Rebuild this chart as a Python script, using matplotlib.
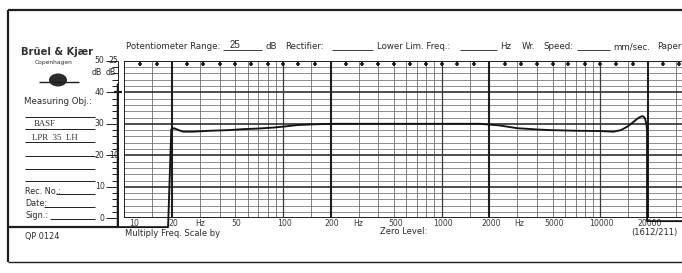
import matplotlib
matplotlib.use("Agg")
import matplotlib.pyplot as plt
import numpy as np
from matplotlib.lines import Line2D
from matplotlib.patches import Ellipse

# ---------------- data ----------------
# recorded pen trace (frequency in Hz, level in dB on the 50 dB scale)
trace_freq = [9.1, 9.1, 18.9, 19.8, 20.6, 22.0, 23.5, 27.0, 35.0, 46.0, 56.0,
              70.0, 87.0, 105.0, 123.0, 150.0, 200.0, 500.0, 1000.0, 1750.0,
              2300.0, 3000.0, 4000.0, 4800.0, 7000.0, 10000.0, 12100.0,
              13500.0, 14800.0, 16000.0, 17200.0, 18000.0, 18600.0, 19100.0,
              19500.0, 19700.0, 19700.0, 40000.0]
trace_level = [42.5, -2.8, -2.8, 28.2, 28.6, 28.0, 27.5, 27.5, 27.8, 28.0, 28.3,
               28.5, 28.8, 29.2, 29.6, 29.8, 30.0, 30.0, 30.0, 30.0,
               29.5, 28.6, 28.2, 28.0, 27.8, 27.7, 27.5,
               28.0, 29.1, 30.4, 31.7, 32.3, 32.4, 31.8,
               30.0, 28.0, -0.9, -0.9]

freq_tick_values = [10, 20, 50, 100, 200, 500, 1000, 2000, 5000, 10000, 20000]
freq_tick_labels = ["10", "20", "50", "100", "200", "500", "1000", "2000",
                    "5000", "10000", "20000"]
hz_label_freqs = [30, 300, 3100]
outer_db_values = [0, 10, 20, 30, 40, 50]
outer_db_labels = ["0", "10", "20", "30", "40", "50"]
inner_db_labels = ["", "", "10", "", "", "25"]

# ---------------- layout helpers ----------------
W, H = 682, 273
fig = plt.figure(figsize=(W / 100, H / 100), dpi=100)
fig.patch.set_facecolor("white")

def fx(x):
    return x / W

def fy(y):
    return 1 - y / H

INK = "#1e1e1e"
GRID = "#6e6e6e"
FONT = "DejaVu Sans"

def ftext(x, y, s, size=6.3, ha="left", va="center", **kw):
    fig.text(fx(x), fy(y), s, fontsize=size, ha=ha, va=va, color=kw.pop("color", "#2a2a2a"),
             family=kw.pop("family", FONT), **kw)

def fline(xs, ys, lw=0.8, color=INK, **kw):
    fig.add_artist(Line2D([fx(v) for v in xs], [fy(v) for v in ys], lw=lw,
                          color=color, transform=fig.transFigure,
                          solid_capstyle="butt", **kw))

# ---------------- chart axes ----------------
X0, DEC, Y0, PXDB = 124.2, 158.7, 218.3, 3.15
ax = fig.add_axes([fx(X0), fy(Y0), DEC * np.log10(4000) / W, 50 * PXDB / H])
ax.set_xscale("log")
ax.set_xlim(10, 40000)
ax.set_ylim(0, 50)
ax.axis("off")

# horizontal grid
for db in range(0, 51, 2):
    if db % 10 == 0:
        ax.axhline(db, color=INK, lw=1.1 if db not in (0, 50) else 1.4, zorder=2)
    else:
        ax.axhline(db, color=GRID, lw=0.55, zorder=1)

# vertical grid
for dec in [10, 100, 1000, 10000]:
    for m in [1, 1.5, 2, 3, 4, 5, 6, 7, 8, 9]:
        f = m * dec
        if f > 40000:
            continue
        if f == 10:
            ax.axvline(f, color=INK, lw=1.4, zorder=2)
        elif m == 2:
            ax.axvline(f, color=INK, lw=1.5, zorder=2)
        elif m == 1:
            ax.axvline(f, color="#3a3a3a", lw=0.9, zorder=2)
        else:
            ax.axvline(f, color=GRID, lw=0.6, zorder=1)

# third-octave markers on the top edge
third = [12.5, 16, 25, 31.5, 40, 50, 63, 80, 100, 125, 160, 250, 315, 400, 500,
         630, 800, 1000, 1250, 1600, 2500, 3150, 4000, 5000, 6300, 8000, 10000,
         12500, 16000, 25000, 31500]
ax.vlines(third, 48.4, 50, color=INK, lw=1.5, zorder=3)
ax.plot(third, [48.9] * len(third), ls="none", marker="_", ms=3.2, mew=1.2,
        color=INK, zorder=3)

# recorded trace
ax.plot(trace_freq, trace_level, color="#141414", lw=1.35, clip_on=False,
        solid_joinstyle="round", zorder=5)
# calibration mark on pen line
ax.plot([9.1], [40], marker="_", ms=6, mew=1.6, color=INK, clip_on=False, zorder=5)

# frequency labels
ylab = -(223.5 - Y0) / PXDB
for f, lab in zip(freq_tick_values, freq_tick_labels):
    xf = f * 1.07 if f == 10 else f * 1.02
    ax.text(xf, ylab, lab, fontsize=5.6, ha="left" if f == 10 else "center",
            va="center", color="#3a3a3a", family=FONT)
for f in hz_label_freqs:
    ax.text(f, ylab, "Hz", fontsize=5.6, ha="center", va="center",
            color="#3a3a3a", family=FONT)

# ---------------- left dB scale ----------------
fline([118, 118], [61, 227], lw=0.7)
for db in range(0, 51, 2):
    y = Y0 - db * PXDB
    fline([112 if db % 10 else 106, 118], [y, y], lw=0.7)
for v, lo, li in zip(outer_db_values, outer_db_labels, inner_db_labels):
    y = Y0 - v * PXDB
    ftext(104.5, y, lo, size=5.6, ha="right")
    if li:
        ftext(118.5, y, li, size=5.6, ha="right")
ftext(102, 73, "dB", size=5.6, ha="right")
ftext(116, 73, "dB", size=5.6, ha="right")

# ---------------- outer frame and left panel ----------------
fline([8, 690], [10, 10], lw=1.6)
fline([8, 8], [10, 262], lw=1.6)
fline([8, 690], [262, 262], lw=1.0)

ftext(57, 52, "Brüel & Kjær", size=7.2, ha="center", weight="semibold", color="#333333")
ftext(54, 62.5, "Copenhagen", size=4.3, ha="center")
fig.add_artist(Ellipse((fx(58), fy(80)), fx(18), 13 / H, transform=fig.transFigure,
                       facecolor="#2b2b2b", edgecolor="none"))
fline([39, 79], [82, 82], lw=1.0)
ftext(24, 102, "Measuring Obj.:", size=6.2)
for y in [117, 128.5, 142, 156, 169, 181]:
    fline([25, 95], [y, y], lw=0.7)
ftext(34, 124.5, "BASF", size=6.3, family="Liberation Serif", color="#333333")
ftext(32, 137.5, "LPR  35  LH", size=6.3, family="Liberation Serif", color="#333333")
ftext(25, 191, "Rec. No.:", size=5.9)
fline([56, 95], [194, 194], lw=0.7)
ftext(25, 204, "Date:", size=5.9)
fline([44, 95], [207, 207], lw=0.7)
ftext(25, 216, "Sign.:", size=5.9)
fline([50, 95], [219, 219], lw=0.7)
fline([8, 118], [227, 227], lw=1.6)
ftext(25, 236, "QP 0124", size=5.9)

# ---------------- header and footer texts ----------------
ftext(126, 46.5, "Potentiometer Range:", size=6.2)
fline([223, 262], [49.5, 49.5], lw=0.6)
ftext(230, 45.5, "25", size=7.0, family="Liberation Sans")
ftext(265, 46.5, "dB", size=6.2)
ftext(285, 46.5, "Rectifier:", size=6.2)
fline([332, 373], [49.5, 49.5], lw=0.6)
ftext(377, 46.5, "Lower Lim. Freq.:", size=6.2)
fline([460, 497], [49.5, 49.5], lw=0.6)
ftext(500, 46.5, "Hz", size=6.2)
ftext(522, 46.5, "Wr.", size=6.2)
ftext(543, 46.5, "Speed:", size=6.2)
fline([577, 610], [49.5, 49.5], lw=0.6)
ftext(613, 46.5, "mm/sec.", size=6.2)
ftext(657, 46.5, "Paper", size=6.2)

ftext(125, 234, "Multiply Freq. Scale by", size=6.0)
ftext(380, 232, "Zero Level:", size=6.0)
ftext(631, 232, "(1612/211)", size=6.0)

fig.savefig("out.png", dpi=100, facecolor="white")
